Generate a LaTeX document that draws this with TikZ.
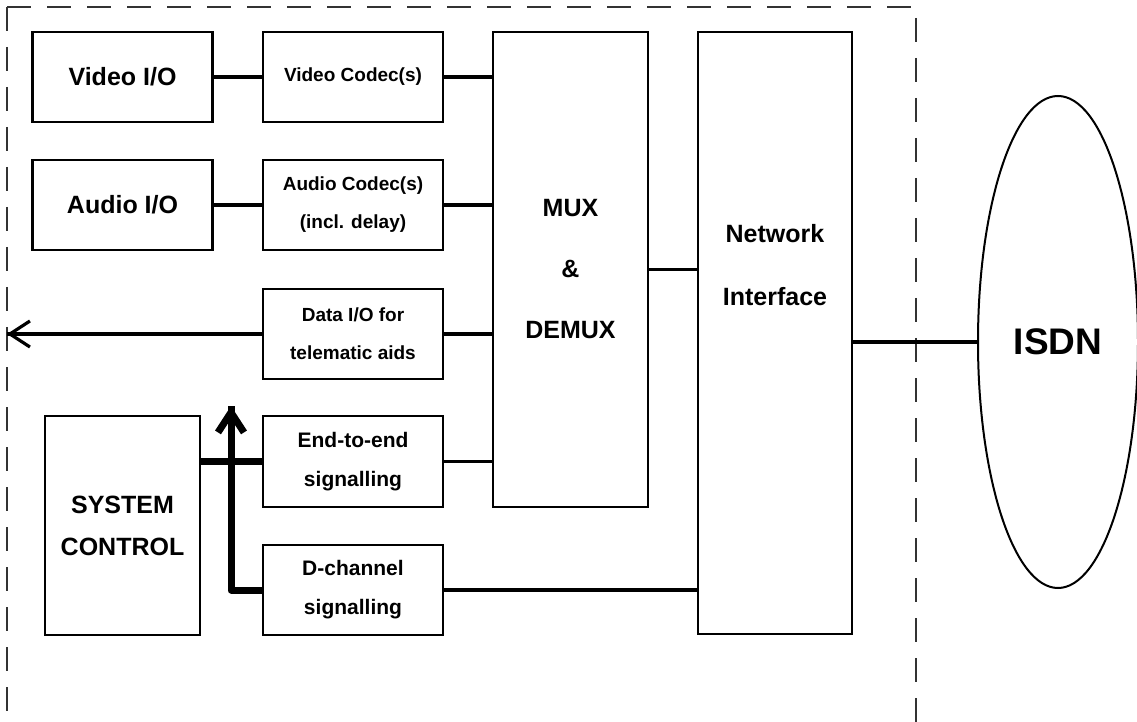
\documentclass[tikz,border=0pt]{standalone}
\usepackage{fontspec}
\setmainfont{Liberation Sans}
\tikzset{outarrow/.style = {decoration={markings, mark=at position 1 with {\arrow{Straight Barb[length=10pt,width=13pt]}}}, postaction={decorate}}}
\tikzset{unit/.style = {draw, line width=1.2pt, inner sep=0pt, align=center, minimum width=90pt, minimum height=45pt},
         big/.style = {font=\fontsize{12.5}{21}\selectfont\bfseries},
         small/.style = {font=\fontsize{9.5}{19}\selectfont\bfseries},
         sig/.style = {font=\fontsize{10.5}{19.5}\selectfont\bfseries},
         link/.style = {line width=1.6pt},
         ctl/.style = {line width=3.5pt, line join=round},
         frame/.style = {dash pattern=on 12pt off 8pt, line width=.7pt, black!80}}
\usetikzlibrary{arrows.meta,shapes.geometric,
                 decorations.markings}

\begin{document}
\begin{tikzpicture}[x=.5pt, y=-.5pt]
\useasboundingbox (0,0) rectangle (1137,722);
\draw [frame] (7,7) -- (7,722);
\draw [frame] (7,7) -- (913,7);
\draw [frame] (916,18) -- (916,722);

\node [unit, big] (vio) at (122.5,77) {Video I/O};
\node [unit, small] (vcodec) at (353,77) {Video Codec(s)};
\node [unit, big] (aio) at (122.5,205) {Audio I/O};
\node [unit, small] (acodec) at (353,205) {Audio Codec(s)\\(incl. delay)};
\node [unit, small] (data) at (353,334) {Data I/O for\\telematic aids};
\node [unit, sig, minimum height=45.5pt] (e2e) at (353,461.5) {End-to-end\\signalling};
\node [unit, sig] (dch) at (353,590) {D-channel\\signalling};
\node [unit, big, minimum width=77.5pt, minimum height=109.5pt] (sysctl) at (122.5,525.5) {SYSTEM\\CONTROL};
\node [unit, font=\fontsize{12.5}{30.5}\selectfont\bfseries, minimum width=77.5pt, minimum height=237.5pt] (mux) at (570.5,269.5) {MUX\\\&\\DEMUX};
\node [unit, minimum width=77pt, minimum height=301pt] (net) at (775,333) {};
\node [align=center, font=\fontsize{12.5}{31.5}\selectfont\bfseries] (netlabel) at (775,265) {Network\\Interface};
\node [draw, ellipse, line width=1pt, inner sep=0pt, minimum width=80pt, minimum height=246pt,
       font=\fontsize{18.5}{22}\selectfont\bfseries] (isdn) at (1058,342) {ISDN};
\coordinate (dataout) at (7,334);
\coordinate (sigup) at (231,406);

\draw [link] (vio) -- (vcodec);
\draw [link] (vcodec) -- (vcodec -| mux.west);
\draw [link] (aio) -- (acodec);
\draw [link] (acodec) -- (acodec -| mux.west);
\draw [link] (data) -- (data -| mux.west);
\draw [link, outarrow] (data.west) -- (dataout);
\draw [link] (e2e) -- (e2e -| mux.west);
\draw [ctl] (sysctl.east |- e2e.west) -- (e2e.west);
\draw [ctl, outarrow] (dch.west) -| (sigup);
\draw [link] (dch) -- (dch -| net.west);
\draw [link] (mux) -- (mux -| net.west);
\draw [link] (net.east |- isdn.west) -- (isdn.west);
\end{tikzpicture}
\end{document}
